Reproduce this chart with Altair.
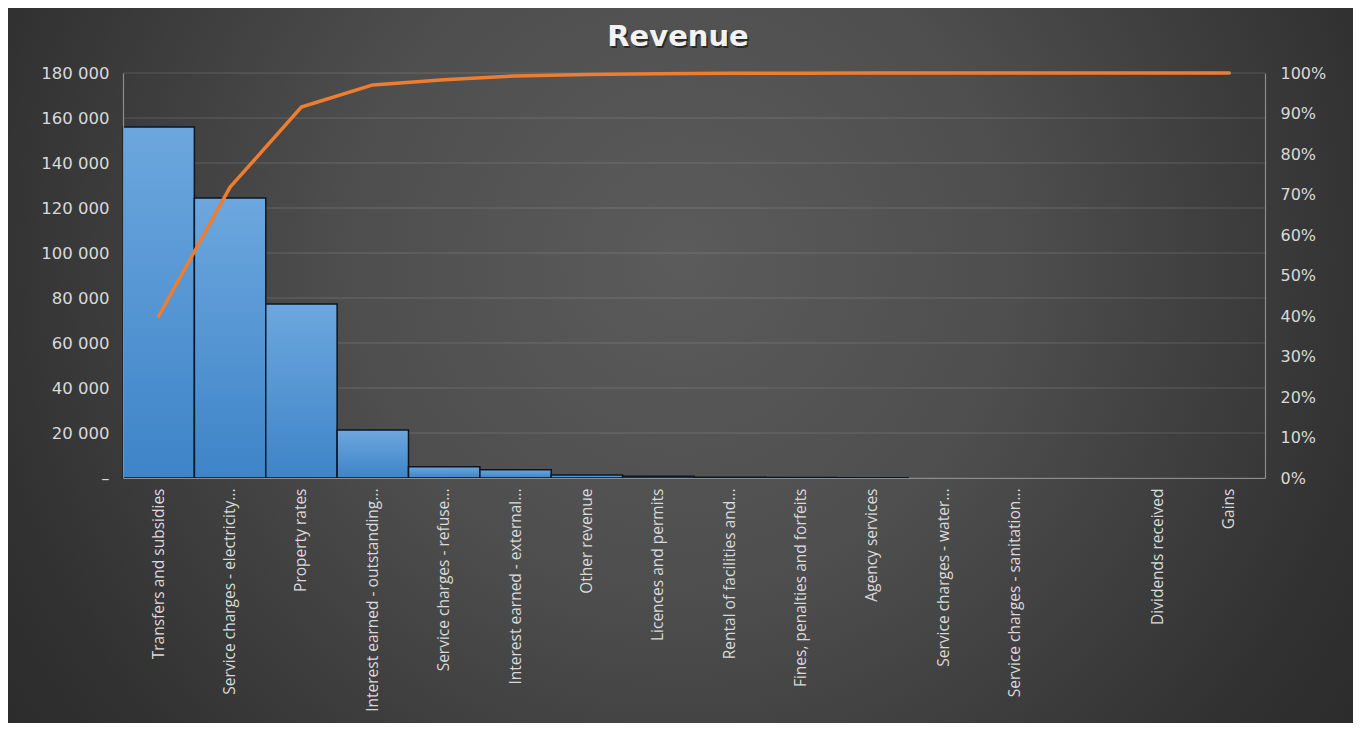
import altair as alt
import pandas as pd

# ---- data ----
categories = [
    "Transfers and subsidies",
    "Service charges - electricity...",
    "Property rates",
    "Interest earned - outstanding...",
    "Service charges - refuse...",
    "Interest earned - external...",
    "Other revenue",
    "Licences and permits",
    "Rental of facilities and...",
    "Fines, penalties and forfeits",
    "Agency services",
    "Service charges - water...",
    "Service charges - sanitation...",
    " ",
    "Dividends received",
    "Gains",
]
revenue = [156000, 124400, 77300, 21300, 5000, 3700, 1350, 800, 300, 200, 150, 0, 0, 0, 0, 0]
y_ticks = [0, 20000, 40000, 60000, 80000, 100000, 120000, 140000, 160000, 180000]
pct_ticks = [0.0, 0.1, 0.2, 0.3, 0.4, 0.5, 0.6, 0.7, 0.8, 0.9, 1.0]
title_text = "Revenue"

df = pd.DataFrame({"idx": list(range(len(categories))), "category": categories, "value": revenue})
grid_df = pd.DataFrame({"g": y_ticks})
title_df = pd.DataFrame({"t": [title_text]})
bg_df = pd.DataFrame({"k": [0]})

W, H = 1142, 405
PAD = {"left": 115, "top": 65, "right": 88, "bottom": 245}

label_color = "#d9d9d9"
axis_color = "#8c8c8c"

bg_gradient = {
    "gradient": "radial",
    "x1": 0.5, "y1": 0.42, "r1": 0,
    "x2": 0.5, "y2": 0.42, "r2": 0.62,
    "stops": [
        {"offset": 0, "color": "#5b5b5b"},
        {"offset": 0.4, "color": "#4e4e4e"},
        {"offset": 0.85, "color": "#313131"},
        {"offset": 1, "color": "#2b2b2b"},
    ],
}
bar_gradient = {
    "gradient": "linear",
    "x1": 0, "y1": 0, "x2": 0, "y2": 1,
    "stops": [
        {"offset": 0, "color": "#6ca7de"},
        {"offset": 1, "color": "#3e84c8"},
    ],
}

x_enc = alt.X(
    "category:N",
    sort=categories,
    scale=alt.Scale(paddingInner=0, paddingOuter=0),
    axis=alt.Axis(
        title=None, labelAngle=-90, labelAlign="right", labelBaseline="middle",
        labelPadding=10, ticks=False, domainColor=axis_color, domainWidth=1.2,
        labelColor=label_color, labelFont="Open Sans", labelFontSize=15.5,
        labelLimit=400, zindex=1,
    ),
)

background = alt.Chart(bg_df).mark_rect(color=bg_gradient).encode(
    x=alt.value(-PAD["left"]), x2=alt.value(W + PAD["right"]),
    y=alt.value(-PAD["top"]), y2=alt.value(H + PAD["bottom"]),
)

grid = alt.Chart(grid_df).mark_rule(color="white", opacity=0.15, strokeWidth=1).encode(
    y=alt.Y("g:Q", scale=alt.Scale(domain=[0, 180000]), axis=None),
)

bars = alt.Chart(df).transform_filter("datum.value > 0").mark_bar(
    color=bar_gradient, stroke="#0b1622", strokeWidth=1.5
).encode(
    x=x_enc,
    y=alt.Y(
        "value:Q",
        scale=alt.Scale(domain=[0, 180000]),
        axis=alt.Axis(
            title=None, orient="left", values=y_ticks, grid=False, ticks=False,
            labelExpr="datum.value == 0 ? '–' : replace(format(datum.value, ','), ',', ' ')",
            domainColor=axis_color, domainWidth=1.2, labelColor=label_color,
            labelFont="DejaVu Sans", labelFontSize=16.5, labelPadding=14, zindex=1,
        ),
    ),
)

line = alt.Chart(df).transform_window(
    cum="sum(value)", sort=[alt.SortField("idx")], frame=[None, 0]
).transform_joinaggregate(total="sum(value)").transform_calculate(
    share="datum.cum / datum.total"
).mark_line(color="#ED7D31", strokeWidth=3.5, strokeCap="round", strokeJoin="round").encode(
    x=alt.X("category:N", sort=categories),
    y=alt.Y(
        "share:Q",
        scale=alt.Scale(domain=[0, 1]),
        axis=alt.Axis(
            title=None, orient="right", values=pct_ticks, format=".0%", grid=False,
            ticks=False, domainColor=axis_color, domainWidth=1.2, labelColor=label_color,
            labelFont="DejaVu Sans", labelFontSize=16, labelPadding=15, zindex=1,
        ),
    ),
    order=alt.Order("idx:Q"),
)

title_shadow = alt.Chart(title_df).mark_text(
    font="DejaVu Sans", fontSize=29, fontWeight="bold", color="#000000", opacity=0.5,
    align="center", baseline="alphabetic", dx=1.5, dy=1.5,
).encode(text="t:N", x=alt.value(555), y=alt.value(-27))

title = alt.Chart(title_df).mark_text(
    font="DejaVu Sans", fontSize=29, fontWeight="bold", color="#f2f2f2",
    align="center", baseline="alphabetic",
).encode(text="t:N", x=alt.value(555), y=alt.value(-27))

chart = alt.layer(background, grid, bars, line, title_shadow, title).resolve_scale(
    y="independent"
).properties(
    width=W, height=H,
    autosize=alt.AutoSizeParams(type="none"),
    padding=PAD,
    background="#2b2b2b",
).configure_view(stroke=None)

chart.save("out.html", embed_options={"renderer": "svg", "actions": False})
